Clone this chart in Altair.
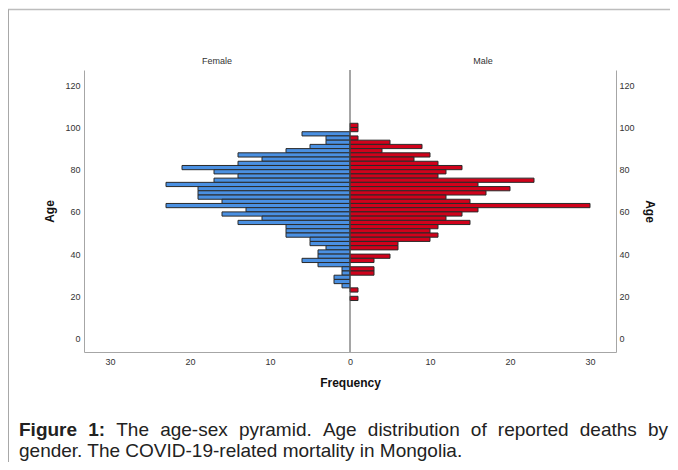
import altair as alt
import pandas as pd

# ---------------- data ----------------
age_start = list(range(100, 16, -2))          # 2-year age bins, 100..18
female = [0, 0, 6, 3, 3, 5, 8, 14, 11, 14, 21, 17, 14, 17, 23, 19, 19, 19, 16, 23, 13,
          16, 11, 14, 8, 8, 8, 5, 5, 3, 4, 4, 6, 4, 1, 1, 2, 2, 1, 0, 0, 0]
male = [1, 1, 0, 1, 5, 9, 4, 10, 8, 11, 14, 12, 11, 23, 16, 20, 17, 12, 15, 30, 16,
        14, 12, 15, 11, 10, 11, 10, 6, 6, 0, 5, 3, 0, 3, 3, 0, 0, 0, 1, 0, 1]
sexes = ["Female", "Male"]
x_ticks = [-30, -20, -10, 0, 10, 20, 30]
y_ticks = [0, 20, 40, 60, 80, 100, 120]
caption_bold = ["Figure", "1:"]
caption_line1 = ["The", "age-sex", "pyramid.", "Age", "distribution", "of",
                 "reported", "deaths", "by"]
caption_line2 = "gender. The COVID-19-related mortality in Mongolia."

# ---------------- layout ----------------
FONT = "Liberation Sans"
W, H = 532, 282
PAD = {"left": 76, "top": 62, "right": 54, "bottom": 110}
XMAX = 33.25
YDOM = [-6.4, 127.25]
BLUE, RED = "#4A90E2", "#D0021B"

rows = []
for a, f, m in zip(age_start, female, male):
    if f:
        rows.append({"sex": "Female", "start": a, "end": a + 2, "val": -f, "base": 0})
    if m:
        rows.append({"sex": "Male", "start": a, "end": a + 2, "val": m, "base": 0})
df = pd.DataFrame(rows)

xscale = alt.Scale(domain=[-XMAX, XMAX], nice=False, zero=False)
yscale = alt.Scale(domain=YDOM, nice=False, zero=False)

bars = alt.Chart(df).mark_bar(stroke="#2a2a2a", strokeWidth=1).encode(
    x=alt.X("val:Q", scale=xscale,
            axis=alt.Axis(values=x_ticks, labelExpr="abs(datum.value)", orient="bottom",
                          title="Frequency", titleY=30, titleBaseline="middle",
                          labelPadding=5)),
    x2="base:Q",
    y=alt.Y("start:Q", scale=yscale,
            axis=alt.Axis(values=y_ticks, orient="left", title="Age",
                          titleX=-28, titleY=H / 2, titleBaseline="bottom",
                          labelPadding=4)),
    y2="end:Q",
    color=alt.Color("sex:N", scale=alt.Scale(domain=sexes, range=[BLUE, RED]), legend=None),
)

right_axis = alt.Chart(df).mark_tick(opacity=0).encode(
    y=alt.Y("start:Q", scale=yscale,
            axis=alt.Axis(values=y_ticks, orient="right", title="Age",
                          titleX=26, titleY=H / 2, titleBaseline="bottom",
                          titleAngle=90, labelPadding=3)),
)

center = alt.Chart(pd.DataFrame({"z": [0]})).mark_rule(color="#4d4d4d", strokeWidth=1).encode(
    x=alt.X("z:Q", scale=xscale, axis=None),
    y=alt.value(0), y2=alt.value(H),
)

headers = alt.Chart(pd.DataFrame({"lab": sexes, "xp": [-XMAX / 2, XMAX / 2]})).mark_text(
    font=FONT, fontSize=9, color="#333333", baseline="middle", align="center"
).encode(x=alt.X("xp:Q", scale=xscale, axis=None), y=alt.value(-9), text="lab:N")

# frame lines (image border)
one = pd.DataFrame({"a": [0]})
frame_top = alt.Chart(one).mark_rule(color="#bdbdbd", strokeWidth=1.5).encode(
    x=alt.value(-PAD["left"]), x2=alt.value(W + PAD["right"]), y=alt.value(-PAD["top"] + 1.5))
frame_left = alt.Chart(one).mark_rule(color="#a8a8a8", strokeWidth=1).encode(
    x=alt.value(-PAD["left"] + 0.5), y=alt.value(-PAD["top"] + 1.5), y2=alt.value(H + PAD["bottom"]))

# caption, justified first line (Arial metrics)
REG = {"a": 556, "b": 556, "c": 500, "d": 556, "e": 556, "f": 278, "g": 556, "h": 556,
       "i": 222, "l": 222, "m": 833, "n": 556, "o": 556, "p": 556, "r": 333, "s": 500,
       "t": 278, "u": 556, "x": 500, "y": 500, "A": 667, "T": 611, "-": 333, ".": 278}
BOLD = {"F": 611, "i": 278, "g": 611, "u": 611, "r": 389, "e": 556, "1": 556, ":": 333}
CAP_SIZE = 19


def tw(s, table):
    return sum(table.get(c, 556) for c in s) * CAP_SIZE / 1000


x_left, x_right = 19 - 84, 668 - 84
words = [(w, True) for w in caption_bold] + [(w, False) for w in caption_line1]
widths = [tw(w, BOLD if b else REG) for w, b in words]
gap = (x_right - x_left - sum(widths)) / (len(words) - 1)
cap_layers = []
xpos = x_left
y1, y2 = 436 - 70, 457 - 70
for (w, b), wd in zip(words, widths):
    cap_layers.append(
        alt.Chart(one).mark_text(font=FONT, fontSize=CAP_SIZE, fontWeight="bold" if b else "normal",
                                 color="#222222", align="left", baseline="alphabetic", text=w)
        .encode(x=alt.value(xpos), y=alt.value(y1)))
    xpos += wd + gap
cap_layers.append(
    alt.Chart(one).mark_text(font=FONT, fontSize=CAP_SIZE, color="#222222", align="left",
                             baseline="alphabetic", text=caption_line2)
    .encode(x=alt.value(x_left), y=alt.value(y2)))

chart = alt.layer(bars, right_axis, center, headers, frame_top, frame_left, *cap_layers).resolve_axis(
    x="independent", y="independent"
).properties(
    width=W, height=H, autosize="none", padding=PAD
).configure_view(stroke="transparent").configure_axis(
    labelFont=FONT, labelFontSize=9, labelColor="#333333",
    titleFont=FONT, titleFontSize=12, titleFontWeight="bold", titleColor="#111111",
    domainColor="#a6a6a6", domainWidth=1, ticks=False, tickSize=0, grid=False,
).configure_axisY(labelAlign="right").configure_axisRight(labelAlign="left")

chart.save("out.html", embed_options={"renderer": "svg", "actions": False})
